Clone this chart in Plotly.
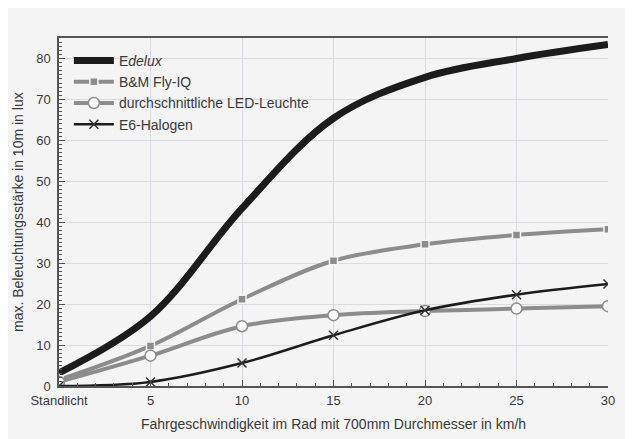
import plotly.graph_objects as go

speed = [0, 5, 10, 15, 20, 25, 30]
x_tick_labels = ["Standlicht", "5", "10", "15", "20", "25", "30"]
y_ticks = [0, 10, 20, 30, 40, 50, 60, 70, 80]

edelux = [3.2, 17.0, 43.4, 65.4, 75.4, 80.0, 83.4]
bm_flyiq = [1.5, 9.8, 21.2, 30.6, 34.6, 36.9, 38.3]
led_avg = [1.0, 7.4, 14.6, 17.3, 18.3, 18.9, 19.5]
e6_halogen = [0.0, 1.0, 5.6, 12.4, 18.5, 22.3, 24.9]

names = ["E<i>delux</i>", "B&M Fly-IQ", "durchschnittliche LED-Leuchte", "E6-Halogen"]
x_title = "Fahrgeschwindigkeit im Rad mit 700mm Durchmesser in km/h"
y_title = "max. Beleuchtungsstärke in 10m in lux"

BG = "#f4f4f4"
GRAY = "#8c8c8c"
DARK = "#1c1c1c"
TXT = "#3a3a3a"
AX = "#555555"

fig = go.Figure()
fig.add_trace(go.Scatter(x=speed, y=edelux, name=names[0], mode="lines",
                         line=dict(color=DARK, width=7, shape="spline")))
fig.add_trace(go.Scatter(x=speed, y=bm_flyiq, name=names[1], mode="lines+markers",
                         line=dict(color=GRAY, width=4, shape="spline"),
                         marker=dict(symbol="square", size=8, color=GRAY,
                                     line=dict(color=BG, width=1.5))))
fig.add_trace(go.Scatter(x=speed, y=led_avg, name=names[2], mode="lines+markers",
                         line=dict(color=GRAY, width=4, shape="spline"),
                         marker=dict(symbol="circle", size=11, color="#fafafa",
                                     line=dict(color=GRAY, width=1.5))))
fig.add_trace(go.Scatter(x=speed, y=e6_halogen, name=names[3], mode="lines+markers",
                         line=dict(color=DARK, width=2.5, shape="spline"),
                         marker=dict(symbol="x-thin", size=9, color=DARK,
                                     line=dict(color="#333333", width=1.5))))

axis_common = dict(showline=True, linecolor=AX, linewidth=1.5,
                   ticks="inside", ticklen=6, tickcolor=AX,
                   zeroline=False, automargin=False,
                   tickfont=dict(size=13, color=TXT))

fig.update_layout(
    width=625, height=431,
    margin=dict(l=51, r=25, t=30, b=53),
    paper_bgcolor=BG, plot_bgcolor=BG,
    font=dict(family="Liberation Sans, Arial, sans-serif", size=13, color=TXT),
    showlegend=True,
    legend=dict(x=0.018, y=0.98, xanchor="left", yanchor="top",
                bgcolor="rgba(0,0,0,0)", font=dict(size=14, color=TXT),
                itemwidth=40, tracegroupgap=0),
    xaxis=dict(range=[0, 30], tickvals=speed, ticktext=x_tick_labels,
               showgrid=True, gridcolor="#d8dce2", gridwidth=1, mirror=True,
               ticklabelstandoff=2,
               minor=dict(dtick=1, ticks="inside", ticklen=3, tickcolor=AX, showgrid=False),
               **axis_common),
    yaxis=dict(range=[0, 85], tickvals=y_ticks,
               showgrid=True, gridcolor="#d8dce2", gridwidth=1,
               ticklabelstandoff=4,
               minor=dict(dtick=1, ticks="inside", ticklen=3, tickcolor=AX, showgrid=False),
               **axis_common),
    yaxis2=dict(range=[0, 85], tickvals=y_ticks, overlaying="y", side="right",
                showgrid=False, ticklabelstandoff=1,
                minor=dict(dtick=1, ticks="inside", ticklen=3, tickcolor=AX),
                **axis_common),
    annotations=[
        dict(text=x_title, xref="paper", yref="paper", x=0.5, y=0,
             xanchor="center", yanchor="middle", yshift=-38, showarrow=False,
             font=dict(size=14, color=TXT)),
        dict(text=y_title, xref="paper", yref="paper", x=0, y=0.5,
             xanchor="center", yanchor="middle", xshift=-41, textangle=-90,
             showarrow=False, font=dict(size=14, color=TXT)),
    ],
)

fig.write_html("out.html")
